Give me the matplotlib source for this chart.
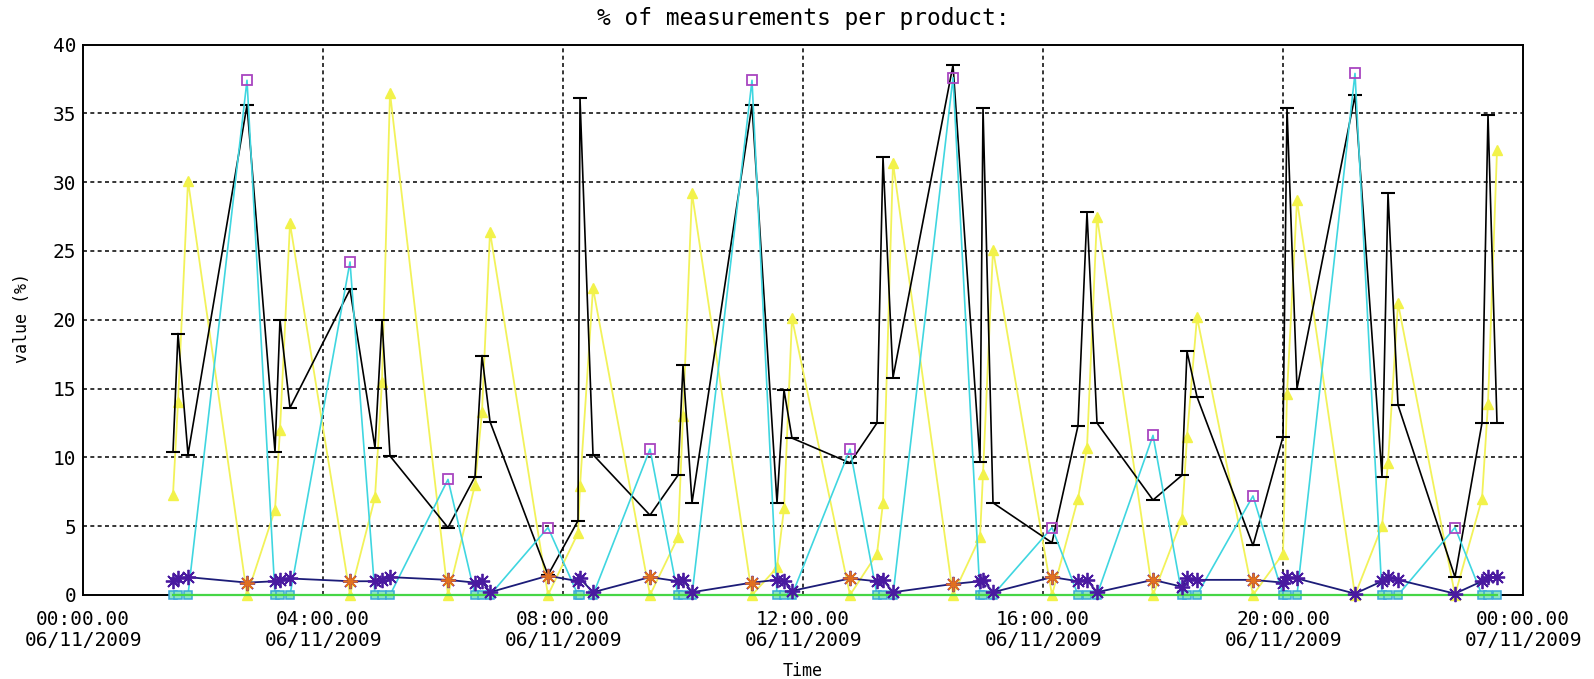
import matplotlib
matplotlib.use("Agg")
import matplotlib.pyplot as plt
import numpy as np

# ---- data (times of the measurements, 06/11/2009) ----
times = ["01:30", "01:35", "01:45", "02:44",
         "03:12", "03:17", "03:27", "04:27",
         "04:52", "04:59", "05:07", "06:05",
         "06:32", "06:39", "06:47", "07:45",
         "08:15", "08:17", "08:30", "09:27",
         "09:55", "10:00", "10:09", "11:09",
         "11:34", "11:41", "11:49", "12:47",
         "13:14", "13:20", "13:30", "14:30",
         "14:57", "15:00", "15:10", "16:09",
         "16:35", "16:44", "16:54", "17:50",
         "18:19", "18:24", "18:34", "19:30",
         "20:00", "20:04", "20:14", "21:12",
         "21:39", "21:45", "21:55", "22:52",
         "23:19", "23:25", "23:34"]

black_vals = [10.4, 19.0, 10.2, 35.6,
              10.4, 20.0, 13.6, 22.2,
              10.7, 20.0, 10.1, 4.9,
              8.6, 17.4, 12.6, 1.45,
              5.4, 36.1, 10.2, 5.8,
              8.7, 16.7, 6.7, 35.6,
              6.7, 14.9, 11.4, 9.6,
              12.5, 31.8, 15.8, 38.5,
              9.7, 35.4, 6.7, 3.8,
              12.3, 27.8, 12.5, 6.9,
              8.7, 17.7, 14.4, 3.6,
              11.5, 35.4, 15.0, 36.3,
              8.6, 29.2, 13.8, 1.3,
              12.5, 34.9, 12.5]

yellow_vals = [7.3, 14.0, 30.1, 0,
               6.2, 12.0, 27.0, 0,
               7.1, 15.5, 36.5, 0,
               8.0, 13.3, 26.4, 0,
               4.5, 7.9, 22.3, 0,
               4.2, 13.0, 29.2, 0,
               2.0, 6.3, 20.1, 0,
               3.0, 6.7, 31.4, 0,
               4.2, 8.8, 25.1, 0,
               7.0, 10.7, 27.5, 0,
               5.5, 11.5, 20.2, 0,
               3.0, 14.6, 28.7, 0,
               5.0, 9.6, 21.2, 0,
               7.0, 13.9, 32.3]

cyan_vals = [0, 0, 0, 37.4,
             0, 0, 0, 24.2,
             0, 0, 0, 8.4,
             0, 0, 0, 4.9,
             0, 0, 0, 10.6,
             0, 0, 0, 37.4,
             0, 0, 0, 10.6,
             0, 0, 0, 37.6,
             0, 0, 0, 4.9,
             0, 0, 0, 11.6,
             0, 0, 0, 7.2,
             0, 0, 0, 37.9,
             0, 0, 0, 4.9,
             0, 0, 0]

navy_vals = [1.0, 1.2, 1.3, 0.9,
             1.0, 1.1, 1.2, 1.0,
             1.0, 1.1, 1.3, 1.1,
             0.9, 1.0, 0.2, 1.4,
             1.0, 1.2, 0.2, 1.3,
             1.0, 1.1, 0.2, 0.9,
             1.1, 1.0, 0.3, 1.2,
             1.0, 1.1, 0.2, 0.8,
             1.0, 1.1, 0.2, 1.3,
             1.0, 1.1, 0.2, 1.1,
             0.6, 1.2, 1.1, 1.1,
             0.9, 1.3, 1.2, 0.1,
             1.0, 1.3, 1.1, 0.1,
             1.0, 1.3, 1.3]

green_vals = [0.0] * len(times)

# single-measurement points marked with orange asterisks
orange_times = ["02:44", "04:27", "06:05", "07:45", "09:27", "11:09",
                "12:47", "14:30", "16:09", "17:50", "19:30"]
orange_vals = [0.9, 1.0, 1.1, 1.4, 1.3, 0.9, 1.2, 0.8, 1.3, 1.1, 1.1]

xtick_hours = [0, 4, 8, 12, 16, 20, 24]
xtick_labels = ["00:00.00\n06/11/2009", "04:00.00\n06/11/2009",
                "08:00.00\n06/11/2009", "12:00.00\n06/11/2009",
                "16:00.00\n06/11/2009", "20:00.00\n06/11/2009",
                "00:00.00\n07/11/2009"]
ytick_vals = [0, 5, 10, 15, 20, 25, 30, 35, 40]


def to_hours(t):
    h, m = t.split(":")
    return int(h) + int(m) / 60.0


x = np.array([to_hours(t) for t in times])
xo = np.array([to_hours(t) for t in orange_times])
cy = np.array(cyan_vals)
peak = cy > 0

# ---- figure ----
plt.rcParams['font.family'] = ['DejaVu Sans Mono']
W, H = 1594, 679
fig = plt.figure(figsize=(W / 100, H / 100), dpi=100)
ax = fig.add_axes([83 / W, 1 - 595 / H, (1523 - 83) / W, (595 - 44.5) / H])

ax.set_xlim(0, 24)
ax.set_ylim(0, 40)

grid_kw = dict(color="black", lw=1.1, ls=(0, (2.6, 2.2)), zorder=1)
for yv in ytick_vals[1:-1]:
    ax.axhline(yv, **grid_kw)
for xv in xtick_hours[1:-1]:
    ax.axvline(xv, **grid_kw)

# yellow series
ax.plot(x, yellow_vals, color="#f2f25a", lw=1.3, marker="^", ms=7,
        mfc="#f2f24a", mec="#f2f24a", zorder=3, clip_on=False)
# black series with caps
ax.plot(x, black_vals, color="black", lw=1.2, marker="_", ms=10, mew=1.5,
        zorder=4, clip_on=False)
# cyan series
ax.plot(x, cyan_vals, color="#3fd6e0", lw=1.2, zorder=5, clip_on=False)
ax.plot(x[peak], cy[peak], ls="none", marker="s", ms=7.5, mfc="none",
        mec="#a845c0", mew=1.3, zorder=6, clip_on=False)
ax.plot(x[~peak], cy[~peak], ls="none", marker="s", ms=6, mfc="#8ee6c0",
        mec="#3aa8d8", mew=1.1, zorder=6, clip_on=False)
# green series
ax.plot(x, green_vals, color="#46d646", lw=1.6, zorder=7, clip_on=False)
# navy series with asterisks
ax.plot(x, navy_vals, color="#1c1c78", lw=1.3, marker=(8, 2, 0), ms=11,
        mec="#4a1aa0", mew=1.3, zorder=8, clip_on=False)
ax.plot(xo, orange_vals, ls="none", marker=(8, 2, 0), ms=10,
        mec="#e07020", mew=1.2, zorder=9, clip_on=False)

for s in ax.spines.values():
    s.set_linewidth(1.4)
    s.set_color("black")

ax.set_xticks(xtick_hours)
ax.set_xticklabels(xtick_labels, fontsize=14, linespacing=1.1)
ax.set_yticks(ytick_vals)
ax.set_yticklabels([str(v) for v in ytick_vals], fontsize=14)
ax.tick_params(axis="both", length=0)
ax.tick_params(axis="x", pad=11)
ax.tick_params(axis="y", pad=5)

fig.text(803 / W, 1 - 19 / H, "% of measurements per product:",
         fontsize=16.5, ha="center", va="center")
fig.text(22 / W, 1 - 318 / H, "value (%)", fontsize=12, rotation=90,
         ha="center", va="center")
fig.text(803 / W, 1 - 671 / H, "Time", fontsize=12, ha="center", va="center")

fig.savefig("out.png", dpi=100)
